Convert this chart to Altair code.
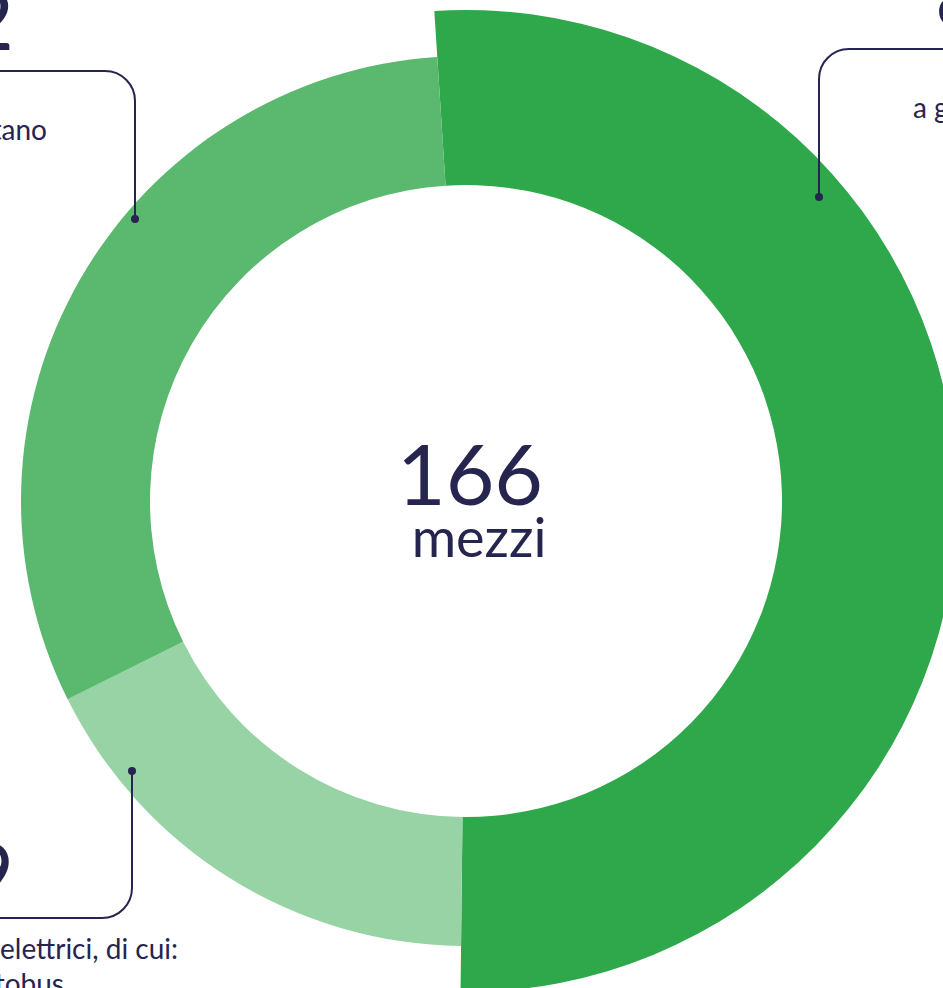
import math
import altair as alt
import pandas as pd

# ---- data ----
categories = ["a gasolio", "elettrici", "a metano"]
values = [85, 29, 52]
ring_order = [0, 1, 2]
ring_group = ["outer", "inner", "inner"]
colors = ["#2EA84A", "#97D3A4", "#5AB96E"]
center_label = "mezzi"
desc_lines = ["a gasolio", "a metano", "mezzi elettrici, di cui:", "autobus"]

NAVY = "#25254F"
FONT = "Lato"
CX, CY = 466, 501
START = math.radians(-3.7)

df = pd.DataFrame({"category": categories, "value": values,
                   "order": ring_order, "group": ring_group})

base = (
    alt.Chart(df)
    .transform_joinaggregate(total="sum(value)")
    .transform_window(cum="sum(value)", sort=[alt.SortField("order")], frame=[None, 0])
    .transform_calculate(t0="(datum.cum - datum.value) / datum.total",
                         t1="datum.cum / datum.total")
)

theta_scale = alt.Scale(domain=[0, 1], range=[START, START + 2 * math.pi])
color_enc = alt.Color("category:N", scale=alt.Scale(domain=categories, range=colors), legend=None)


def ring(group, outer):
    return (
        base.transform_filter(alt.datum.group == group)
        .mark_arc(innerRadius=316, outerRadius=outer, stroke=None)
        .encode(
            theta=alt.Theta("t0:Q", scale=theta_scale),
            theta2="t1:Q",
            color=color_enc,
            x=alt.value(CX),
            y=alt.value(CY),
        )
    )


one = alt.Data(values=[{"k": 1}])


def txt(text, x, y, size, align="left"):
    return alt.Chart(one).mark_text(
        font=FONT, fontSize=size, color=NAVY, align=align, baseline="alphabetic"
    ).encode(x=alt.value(x), y=alt.value(y), text=alt.value(text))


def num(cat, x, y, align):
    return (
        alt.Chart(df).transform_filter(alt.datum.category == cat)
        .mark_text(font=FONT, fontSize=84, color=NAVY, align=align, baseline="alphabetic")
        .encode(x=alt.value(x), y=alt.value(y), text="value:Q")
    )


def hrule(x1, x2, y):
    return alt.Chart(one).mark_rule(color=NAVY, strokeWidth=2).encode(
        x=alt.value(x1), x2=alt.value(x2), y=alt.value(y))


def vrule(x, y1, y2):
    return alt.Chart(one).mark_rule(color=NAVY, strokeWidth=2).encode(
        x=alt.value(x), y=alt.value(y1), y2=alt.value(y2))


def corner(x, y, a0, a1):
    return alt.Chart(one).mark_arc(
        radius=30, radius2=30, theta=a0, theta2=a1,
        fill="white", fillOpacity=0, stroke=NAVY, strokeWidth=2
    ).encode(x=alt.value(x), y=alt.value(y))


def dot(x, y):
    return alt.Chart(one).mark_point(filled=True, size=65, color=NAVY, opacity=1).encode(
        x=alt.value(x), y=alt.value(y))


center_total = (
    base.transform_aggregate(tot="sum(value)")
    .mark_text(font=FONT, fontSize=84, color=NAVY, align="center", baseline="alphabetic")
    .encode(x=alt.value(470), y=alt.value(505), text="tot:Q")
)

layers = [
    ring("outer", 491),
    ring("inner", 445),
    center_total,
    txt(center_label, 479, 557, 54, "center"),
    # top-left callout (a metano)
    num("a metano", 14, 50, "right"),
    hrule(0, 105, 71),
    corner(105, 101, 0, math.pi / 2),
    vrule(135, 101, 219),
    dot(135, 219),
    txt(desc_lines[1], 47, 140, 28, "right"),
    # top-right callout (a gasolio)
    num("a gasolio", 935, 28, "left"),
    hrule(849, 943, 49),
    corner(849, 79, 3 * math.pi / 2, 2 * math.pi),
    vrule(819, 79, 197),
    dot(819, 197),
    txt(desc_lines[0], 913, 118, 28, "left"),
    # bottom-left callout (elettrici)
    num("elettrici", 14, 903, "right"),
    vrule(132, 771, 888),
    corner(102, 888, math.pi / 2, math.pi),
    hrule(0, 102, 918),
    dot(132, 771),
    txt(desc_lines[2], 178, 959, 28, "right"),
    txt(desc_lines[3], 64, 994, 28, "right"),
]

chart = (
    alt.layer(*layers)
    .properties(width=943, height=988, autosize="none", padding=0, background="white")
    .configure_view(stroke=None)
)

chart.save("out.html", embed_options={"renderer": "svg", "actions": False})
